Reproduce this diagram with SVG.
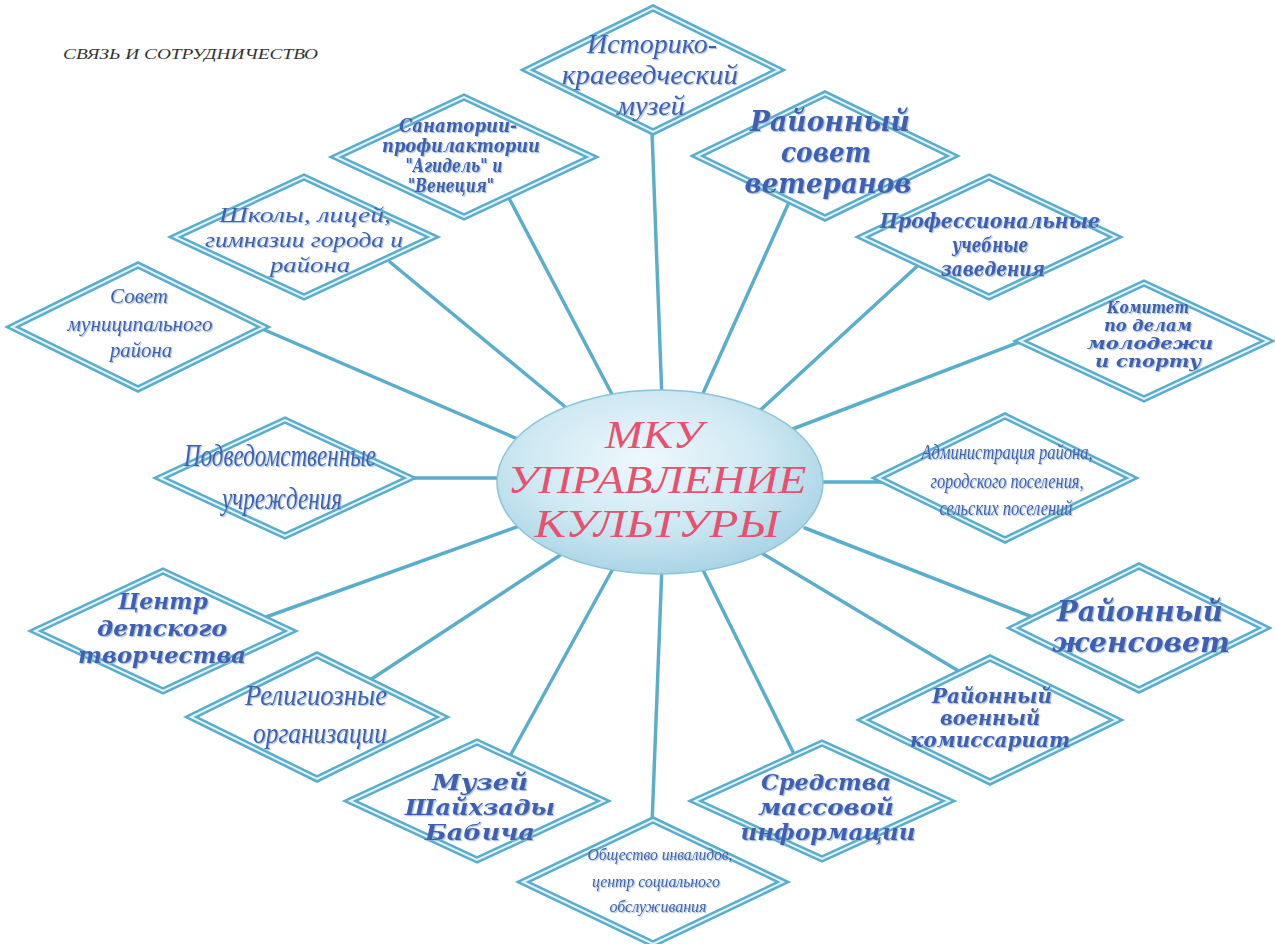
<svg xmlns="http://www.w3.org/2000/svg" width="1275" height="944" viewBox="0 0 1275 944">
<defs>
<radialGradient id="eg" cx="0.45" cy="0.38" r="0.65">
<stop offset="0" stop-color="#eef8fc"/>
<stop offset="0.55" stop-color="#cfe9f3"/>
<stop offset="1" stop-color="#a6d2e4"/>
</radialGradient>
<filter id="sh" x="-10%" y="-20%" width="120%" height="140%">
<feDropShadow dx="1.2" dy="1.2" stdDeviation="0.6" flood-color="#8fb4d0" flood-opacity="0.8"/>
</filter>
<style>
.dia-o{fill:#ffffff;stroke:#5aaecb;stroke-width:7;stroke-linejoin:miter}
.dia-i{fill:none;stroke:#e3f3f9;stroke-width:2;stroke-linejoin:miter}
.con line{stroke:#5aaecb;stroke-width:3.5;stroke-linecap:round}
text{fill:#3f5fb3;text-anchor:middle;filter:url(#sh)}
.ser{font-family:"Liberation Serif","DejaVu Serif",serif;font-style:italic}
.wide{font-family:"DejaVu Serif","Liberation Serif",serif;font-style:italic;font-weight:bold}
.ctr{fill:#e8506e;font-family:"Liberation Serif",serif;font-style:italic;font-size:40px;filter:none}
.ttl{fill:#333333;font-family:"Liberation Serif",serif;font-style:italic;font-size:14px;filter:none;text-anchor:start}
</style>
</defs>
<rect width="1275" height="944" fill="#ffffff"/>
<text class="ttl" x="63" y="59" textLength="255" lengthAdjust="spacingAndGlyphs">СВЯЗЬ И СОТРУДНИЧЕСТВО</text>

<g id="connectors" class="con">
<line x1="652" y1="132" x2="662" y2="400"/>
<line x1="790" y1="200" x2="700" y2="400"/>
<line x1="510" y1="200" x2="615" y2="400"/>
<line x1="390" y1="262" x2="575" y2="415"/>
<line x1="260" y1="328" x2="520" y2="440"/>
<line x1="925" y1="259" x2="755" y2="415"/>
<line x1="1025" y1="340" x2="790" y2="430"/>
<line x1="405" y1="478" x2="505" y2="478"/>
<line x1="815" y1="482" x2="885" y2="482"/>
<line x1="805" y1="528" x2="1035" y2="618"/>
<line x1="962" y1="673" x2="760" y2="552"/>
<line x1="795" y1="756" x2="703" y2="570"/>
<line x1="652" y1="825" x2="662" y2="565"/>
<line x1="510" y1="756" x2="615" y2="565"/>
<line x1="370" y1="680" x2="565" y2="552"/>
<line x1="266" y1="617" x2="525" y2="524"/>
</g>

<g id="center">
<ellipse cx="660" cy="482" rx="163" ry="92" fill="url(#eg)" stroke="#8cc3d9" stroke-width="1.5"/>
<text class="ctr" x="654" y="448" textLength="98" lengthAdjust="spacingAndGlyphs">МКУ</text>
<text class="ctr" x="657" y="493" textLength="299" lengthAdjust="spacingAndGlyphs">УПРАВЛЕНИЕ</text>
<text class="ctr" x="657" y="537" textLength="245" lengthAdjust="spacingAndGlyphs">КУЛЬТУРЫ</text>
</g>

<g id="n-muzey-ist">
<polygon class="dia-o" points="527,70 653,8 779,70 653,132"/>
<polygon class="dia-i" points="527,70 653,8 779,70 653,132"/>
<text class="ser" font-size="27" x="652" y="53" textLength="130" lengthAdjust="spacingAndGlyphs">Историко-</text>
<text class="ser" font-size="27" x="650" y="84" textLength="176" lengthAdjust="spacingAndGlyphs">краеведческий</text>
<text class="ser" font-size="27" x="651" y="115" textLength="68" lengthAdjust="spacingAndGlyphs">музей</text>
</g>

<g id="n-veterany">
<polygon class="dia-o" points="697,156 825,94 953,156 825,218"/>
<polygon class="dia-i" points="697,156 825,94 953,156 825,218"/>
<text class="wide" font-size="28" x="830" y="131" textLength="160" lengthAdjust="spacingAndGlyphs">Районный</text>
<text class="wide" font-size="28" x="826" y="162" textLength="90" lengthAdjust="spacingAndGlyphs">совет</text>
<text class="wide" font-size="28" x="828" y="193" textLength="167" lengthAdjust="spacingAndGlyphs">ветеранов</text>
</g>

<g id="n-sanatorii">
<polygon class="dia-o" points="336,157 464,97 592,157 464,217"/>
<polygon class="dia-i" points="336,157 464,97 592,157 464,217"/>
<text class="wide" font-size="18" x="458" y="132" textLength="118" lengthAdjust="spacingAndGlyphs">Санатории-</text>
<text class="wide" font-size="18" x="461" y="152" textLength="158" lengthAdjust="spacingAndGlyphs">профилактории</text>
<text class="wide" font-size="18" x="454" y="172" textLength="97" lengthAdjust="spacingAndGlyphs">"Агидель" и</text>
<text class="wide" font-size="18" x="451" y="192" textLength="86" lengthAdjust="spacingAndGlyphs">"Венеция"</text>
</g>

<g id="n-shkoly">
<polygon class="dia-o" points="175,237 304,177 433,237 304,297"/>
<polygon class="dia-i" points="175,237 304,177 433,237 304,297"/>
<text class="ser" font-size="22" x="305" y="222" textLength="172" lengthAdjust="spacingAndGlyphs">Школы, лицей,</text>
<text class="ser" font-size="22" x="304" y="247" textLength="198" lengthAdjust="spacingAndGlyphs">гимназии города и</text>
<text class="ser" font-size="22" x="310" y="272" textLength="80" lengthAdjust="spacingAndGlyphs">района</text>
</g>

<g id="n-sovet-mun">
<polygon class="dia-o" points="12,327 138,265 264,327 138,389"/>
<polygon class="dia-i" points="12,327 138,265 264,327 138,389"/>
<text class="ser" font-size="21" x="139" y="303" textLength="58" lengthAdjust="spacingAndGlyphs">Совет</text>
<text class="ser" font-size="21" x="140" y="331" textLength="145" lengthAdjust="spacingAndGlyphs">муниципального</text>
<text class="ser" font-size="21" x="141" y="357" textLength="62" lengthAdjust="spacingAndGlyphs">района</text>
</g>

<g id="n-prof">
<polygon class="dia-o" points="862,237 989,177 1116,237 989,297"/>
<polygon class="dia-i" points="862,237 989,177 1116,237 989,297"/>
<text class="wide" font-size="20" x="990" y="228" textLength="220" lengthAdjust="spacingAndGlyphs">Профессиональные</text>
<text class="wide" font-size="20" x="990" y="252" textLength="76" lengthAdjust="spacingAndGlyphs">учебные</text>
<text class="wide" font-size="20" x="993" y="276" textLength="104" lengthAdjust="spacingAndGlyphs">заведения</text>
</g>

<g id="n-komitet">
<polygon class="dia-o" points="1020,341 1144,283 1268,341 1144,399"/>
<polygon class="dia-i" points="1020,341 1144,283 1268,341 1144,399"/>
<text class="wide" font-size="17" x="1148" y="313" textLength="82" lengthAdjust="spacingAndGlyphs">Комитет</text>
<text class="wide" font-size="17" x="1148" y="331" textLength="88" lengthAdjust="spacingAndGlyphs">по делам</text>
<text class="wide" font-size="17" x="1150" y="349" textLength="126" lengthAdjust="spacingAndGlyphs">молодежи</text>
<text class="wide" font-size="17" x="1148" y="367" textLength="106" lengthAdjust="spacingAndGlyphs">и спорту</text>
</g>

<g id="n-podved">
<polygon class="dia-o" points="160,478 285,420 410,478 285,536"/>
<polygon class="dia-i" points="160,478 285,420 410,478 285,536"/>
<text class="ser" font-size="32" x="280" y="466" textLength="192" lengthAdjust="spacingAndGlyphs">Подведомственные</text>
<text class="ser" font-size="32" x="282" y="509" textLength="120" lengthAdjust="spacingAndGlyphs">учреждения</text>
</g>

<g id="n-admin">
<polygon class="dia-o" points="878,478 1005,416 1132,478 1005,540"/>
<polygon class="dia-i" points="878,478 1005,416 1132,478 1005,540"/>
<text class="ser" font-size="20" x="1007" y="459" textLength="171" lengthAdjust="spacingAndGlyphs">Администрация района,</text>
<text class="ser" font-size="20" x="1007" y="488" textLength="153" lengthAdjust="spacingAndGlyphs">городского поселения,</text>
<text class="ser" font-size="20" x="1006" y="515" textLength="133" lengthAdjust="spacingAndGlyphs">сельских поселений</text>
</g>

<g id="n-zhensovet">
<polygon class="dia-o" points="1013,628 1139,566 1265,628 1139,690"/>
<polygon class="dia-i" points="1013,628 1139,566 1265,628 1139,690"/>
<text class="wide" font-size="27" x="1140" y="621" textLength="166" lengthAdjust="spacingAndGlyphs">Районный</text>
<text class="wide" font-size="27" x="1141" y="652" textLength="178" lengthAdjust="spacingAndGlyphs">женсовет</text>
</g>

<g id="n-centr">
<polygon class="dia-o" points="35,631 163,571 291,631 163,691"/>
<polygon class="dia-i" points="35,631 163,571 291,631 163,691"/>
<text class="wide" font-size="23" x="163" y="609" textLength="90" lengthAdjust="spacingAndGlyphs">Центр</text>
<text class="wide" font-size="23" x="162" y="636" textLength="130" lengthAdjust="spacingAndGlyphs">детского</text>
<text class="wide" font-size="23" x="162" y="663" textLength="168" lengthAdjust="spacingAndGlyphs">творчества</text>
</g>

<g id="n-relig">
<polygon class="dia-o" points="191,717 317,655 443,717 317,779"/>
<polygon class="dia-i" points="191,717 317,655 443,717 317,779"/>
<text class="ser" font-size="30" x="316" y="705" textLength="142" lengthAdjust="spacingAndGlyphs">Религиозные</text>
<text class="ser" font-size="30" x="320" y="743" textLength="134" lengthAdjust="spacingAndGlyphs">организации</text>
</g>

<g id="n-voenkom">
<polygon class="dia-o" points="863,720 990,658 1117,720 990,782"/>
<polygon class="dia-i" points="863,720 990,658 1117,720 990,782"/>
<text class="wide" font-size="20" x="992" y="703" textLength="120" lengthAdjust="spacingAndGlyphs">Районный</text>
<text class="wide" font-size="20" x="990" y="725" textLength="100" lengthAdjust="spacingAndGlyphs">военный</text>
<text class="wide" font-size="20" x="990" y="747" textLength="160" lengthAdjust="spacingAndGlyphs">комиссариат</text>
</g>

<g id="n-muzey-babich">
<polygon class="dia-o" points="350,801 477,742 604,801 477,860"/>
<polygon class="dia-i" points="350,801 477,742 604,801 477,860"/>
<text class="wide" font-size="22" x="480" y="790" textLength="96" lengthAdjust="spacingAndGlyphs">Музей</text>
<text class="wide" font-size="22" x="480" y="815" textLength="150" lengthAdjust="spacingAndGlyphs">Шайхзады</text>
<text class="wide" font-size="22" x="480" y="840" textLength="110" lengthAdjust="spacingAndGlyphs">Бабича</text>
</g>

<g id="n-smi">
<polygon class="dia-o" points="695,801 822,743 949,801 822,859"/>
<polygon class="dia-i" points="695,801 822,743 949,801 822,859"/>
<text class="wide" font-size="22" x="826" y="790" textLength="130" lengthAdjust="spacingAndGlyphs">Средства</text>
<text class="wide" font-size="22" x="826" y="815" textLength="136" lengthAdjust="spacingAndGlyphs">массовой</text>
<text class="wide" font-size="22" x="828" y="840" textLength="175" lengthAdjust="spacingAndGlyphs">информации</text>
</g>

<g id="n-obshchestvo">
<polygon class="dia-o" points="523,882 653,820 783,882 653,944"/>
<polygon class="dia-i" points="523,882 653,820 783,882 653,944"/>
<text class="ser" font-size="17" x="660" y="860" textLength="145" lengthAdjust="spacingAndGlyphs">Общество инвалидов,</text>
<text class="ser" font-size="17" x="656" y="887" textLength="128" lengthAdjust="spacingAndGlyphs">центр социального</text>
<text class="ser" font-size="17" x="658" y="912" textLength="97" lengthAdjust="spacingAndGlyphs">обслуживания</text>
</g>
</svg>
